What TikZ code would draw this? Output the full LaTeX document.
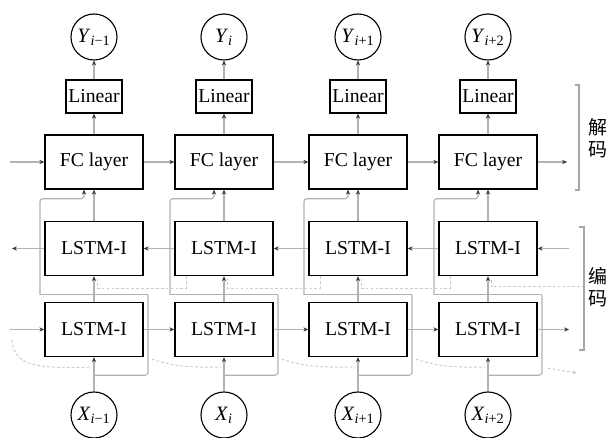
\documentclass[tikz,border=0pt]{standalone}
\usepackage{fontspec}
\setmainfont{Liberation Serif}
\newfontfamily\cjk{Noto Sans CJK SC}
\usetikzlibrary{arrows.meta,positioning,calc}

\begin{document}
\begin{tikzpicture}[
x=0.025cm, y=0.025cm,
caixa/.style={draw, line width=1pt, minimum width=2.45cm, minimum height=1.35cm, inner sep=0pt, font=\fontsize{14}{16}\selectfont},
linear/.style={draw, line width=1pt, minimum width=1.4cm, minimum height=0.825cm, inner sep=0pt, font=\fontsize{14}{16}\selectfont},
circulo/.style={draw, circle, line width=0.8pt, minimum size=1.15cm, inner sep=0pt, font=\fontsize{14.5}{16}\selectfont},
fio/.style={draw=gray!60, line width=0.8pt, rounded corners=2pt},
seta/.style={fio, -{Stealth[length=3.5pt, width=3pt, color=gray!40!black]}},
traco/.style={draw=gray!40, line width=0.7pt, dash pattern=on 2pt off 1.5pt},
chave/.style={draw=gray!70, line width=0.8pt},
rotulo/.style={font=\cjk\fontsize{13.5}{15.6}\selectfont, align=left, anchor=west, inner sep=0pt}
]
\useasboundingbox (0,0) rectangle (608,438);

\node[circulo] (y1) at (94,401) {\textit{Y}\textsubscript{\textit{i}−1}};
\node[linear] (lin1) at (94,341.5) {Linear};
\node[caixa] (fc1) at (94,276) {FC layer};
\node[caixa] (up1) at (94,189.5) {LSTM-I};
\node[caixa] (dn1) at (94,108.5) {LSTM-I};
\node[circulo] (x1) at (94,23) {\textit{X}\textsubscript{\textit{i}−1}};

\node[circulo] (y2) at (224,401) {\textit{Y}\textsubscript{\textit{i}}};
\node[linear] (lin2) at (224,341.5) {Linear};
\node[caixa] (fc2) at (224,276) {FC layer};
\node[caixa] (up2) at (224,189.5) {LSTM-I};
\node[caixa] (dn2) at (224,108.5) {LSTM-I};
\node[circulo] (x2) at (224,23) {\textit{X}\textsubscript{\textit{i}}};

\node[circulo] (y3) at (358,401) {\textit{Y}\textsubscript{\textit{i}+1}};
\node[linear] (lin3) at (358,341.5) {Linear};
\node[caixa] (fc3) at (358,276) {FC layer};
\node[caixa] (up3) at (358,189.5) {LSTM-I};
\node[caixa] (dn3) at (358,108.5) {LSTM-I};
\node[circulo] (x3) at (358,23) {\textit{X}\textsubscript{\textit{i}+1}};

\node[circulo] (y4) at (488,401) {\textit{Y}\textsubscript{\textit{i}+2}};
\node[linear] (lin4) at (488,341.5) {Linear};
\node[caixa] (fc4) at (488,276) {FC layer};
\node[caixa] (up4) at (488,189.5) {LSTM-I};
\node[caixa] (dn4) at (488,108.5) {LSTM-I};
\node[circulo] (x4) at (488,23) {\textit{X}\textsubscript{\textit{i}+2}};

\coordinate (fcin) at (10,276);
\coordinate (fcout) at (567,276);
\coordinate (upin) at (569,189.5);
\coordinate (upout) at (12,189.5);
\coordinate (dnin) at (10,108.5);
\coordinate (dnout) at (569,108.5);
\coordinate (estado) at (585,151);
\coordinate (inicio) at (12,98);
\coordinate (fim) at (577,65);

\draw[seta] (fcin) -- (fc1);
\draw[seta] (fc1) -- (fc2);
\draw[seta] (fc2) -- (fc3);
\draw[seta] (fc3) -- (fc4);
\draw[seta] (fc4) -- (fcout);
\draw[seta] (upin) -- (up4);
\draw[seta] (up4) -- (up3);
\draw[seta] (up3) -- (up2);
\draw[seta] (up2) -- (up1);
\draw[seta] (up1) -- (upout);
\draw[seta] (dnin) -- (dn1);
\draw[seta] (dn1) -- (dn2);
\draw[seta] (dn2) -- (dn3);
\draw[seta] (dn3) -- (dn4);
\draw[seta] (dn4) -- (dnout);

\foreach \k in {1,2,3,4}{
  \coordinate (no\k) at ($(dn\k.north)+(0,7)$);
  \draw[fio] ($(no\k)+(-54,0)$) -- ($(no\k)+(54,0)$);
  \draw[seta] (x\k) -- (dn\k);
  \draw[seta] (dn\k) -- (up\k);
  \draw[seta] (up\k) -- (fc\k);
  \draw[seta] (fc\k) -- (lin\k);
  \draw[seta] (lin\k) -- (y\k);
  \draw[seta] ($(no\k)+(-54,0)$) |- ($(fc\k.south)+(-10,-9)$) -- ($(fc\k.south)+(-10,0)$);
  \draw[fio] ($(dn\k.south)+(0,-18)$) -| ($(no\k)+(54,0)$);
}

\foreach \k/\n in {1/2,2/3,3/4}{
  \draw[traco] ($(up\n.south)+(-38,0)$) |- ($(up\k.south)+(3,-12)$) -- ($(up\k.south)+(3,-3)$);
  \draw[traco] ($(dn\k.south east)+(8,-2)$) .. controls +(25,-8) and +(-30,0) .. ($(dn\n.south)+(-3,-10)$);
}
\draw[traco] (estado) -| ($(up4.south)+(3,-3)$);
\draw[traco] (inicio) .. controls (14,70) and (40,70) .. ($(dn1.south)+(-3,-10)$);
\draw[traco, -{Stealth[length=3pt, width=2.5pt]}] ($(dn4.south east)+(10,-11)$) -- (fim);

\draw[chave] (575,353) -- (579,353) -- (579,248) -- (575,248);
\draw[chave] (579,211) -- (584,211) -- (584,88) -- (579,88);
\node[rotulo] (dec) at (588,300) {解\\码};
\node[rotulo] (enc) at (588,151) {编\\码};
\end{tikzpicture}
\end{document}
